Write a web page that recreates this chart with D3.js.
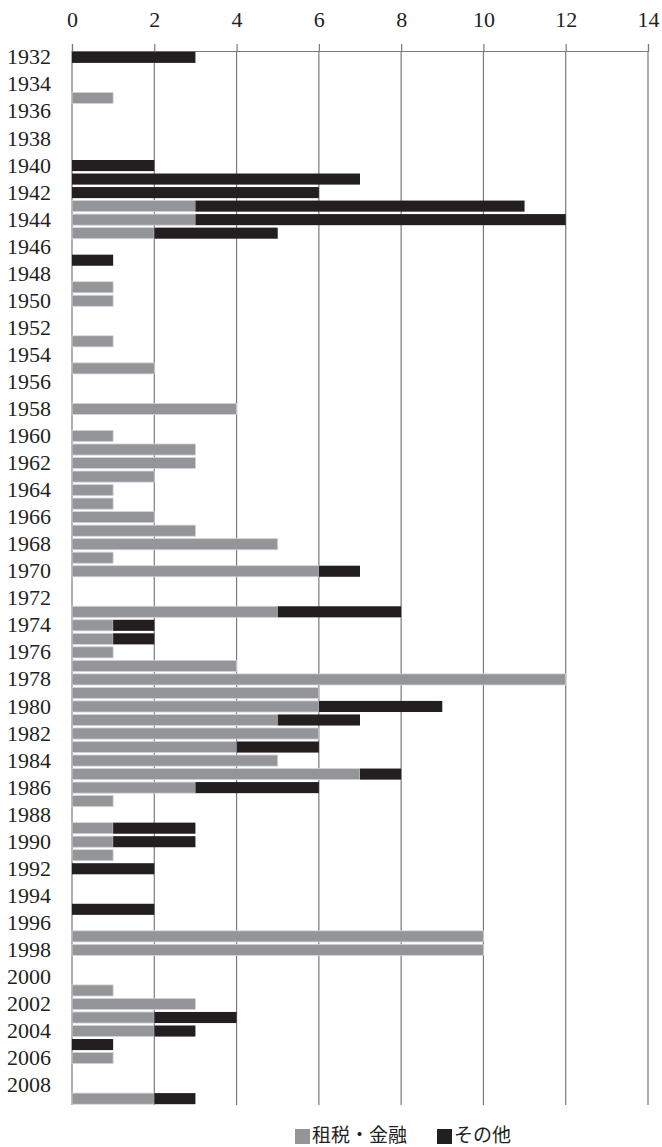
<!DOCTYPE html>
<html>
<head>
<meta charset="utf-8">
<script src="https://cdn.jsdelivr.net/npm/d3@7"></script>
<style>
  body { margin: 0; background: #fff; }
</style>
</head>
<body>
<div id="chart"></div>
<script>
// years shown in the chart (one bar per year)
const years = d3.range(1932, 2010);
// 租税・金融 (gray)
const tax = [
  0,0,0,1,0,0,0,0,0,0,   // 1932-1941
  0,3,3,2,0,0,0,1,1,0,   // 1942-1951
  0,1,0,2,0,0,4,0,1,3,   // 1952-1961
  3,2,1,1,2,3,5,1,6,0,   // 1962-1971
  0,5,1,1,1,4,12,6,6,5,  // 1972-1981
  6,4,5,7,3,1,0,1,1,1,   // 1982-1991
  0,0,0,0,0,10,10,0,0,1, // 1992-2001
  3,2,2,0,1,0,0,2        // 2002-2009
];
// その他 (black)
const other = [
  3,0,0,0,0,0,0,0,2,7,   // 1932-1941
  6,8,9,3,0,1,0,0,0,0,   // 1942-1951
  0,0,0,0,0,0,0,0,0,0,   // 1952-1961
  0,0,0,0,0,0,0,0,1,0,   // 1962-1971
  0,3,1,1,0,0,0,0,3,2,   // 1972-1981
  0,2,0,1,3,0,0,2,2,0,   // 1982-1991
  2,0,0,2,0,0,0,0,0,0,   // 1992-2001
  0,2,1,1,0,0,0,1        // 2002-2009
];
const seriesNames = ["租税・金融", "その他"];
const seriesColors = ["#939598", "#231f20"];
const xTicks = d3.range(0, 15, 2);
const yLabels = years.filter(y => y % 2 === 0);

const width = 662, height = 1147;
const plotLeft = 72, plotRight = 648, plotTop = 51, plotBottom = 1105;
const serif = "'Liberation Serif', 'DejaVu Serif', serif";

const svg = d3.select("#chart").append("svg")
    .attr("width", width)
    .attr("height", height);

const table = years.map((y, i) => ({ year: y, tax: tax[i], other: other[i] }));
const stack = d3.stack().keys(["tax", "other"])(table);

const x = d3.scaleLinear().domain([0, 14]).range([plotLeft, plotRight]);
const y = d3.scaleBand().domain(years).range([plotTop, plotBottom])
    .paddingInner(0.18).paddingOuter(0.06);

// grid lines
svg.append("g")
    .selectAll("line")
    .data(xTicks)
    .enter().append("line")
    .attr("x1", d => x(d)).attr("x2", d => x(d))
    .attr("y1", plotTop).attr("y2", plotBottom)
    .attr("stroke", "#7a7a7a")
    .attr("stroke-width", 1.2);

// top axis
const xAxis = svg.append("g")
    .attr("transform", "translate(0," + plotTop + ")")
    .call(d3.axisTop(x).tickValues(xTicks).tickSize(7).tickSizeOuter(7).tickPadding(17));
xAxis.attr("font-family", null).attr("font-size", null);
xAxis.select(".domain").attr("stroke", "#7a7a7a").attr("stroke-width", 1.2);
xAxis.selectAll(".tick line").attr("stroke", "#7a7a7a").attr("stroke-width", 1.2);
xAxis.selectAll("text")
    .attr("font-family", serif)
    .attr("font-size", 22)
    .attr("fill", "#231f20");

// bars
const layers = svg.append("g")
    .selectAll("g")
    .data(stack)
    .enter().append("g")
    .attr("fill", (d, i) => seriesColors[i]);

layers.selectAll("rect")
    .data(d => d.filter(p => p[1] > p[0]))
    .enter().append("rect")
    .attr("x", d => x(d[0]))
    .attr("y", d => y(d.data.year))
    .attr("width", d => x(d[1]) - x(d[0]))
    .attr("height", y.bandwidth());

layers.filter((d, i) => i === 0).selectAll("rect")
    .attr("stroke", "#d4d4d6")
    .attr("stroke-width", 0.8);

// left labels
const yAxis = svg.append("g")
    .attr("transform", "translate(" + plotLeft + ",0)")
    .call(d3.axisLeft(y).tickValues(yLabels).tickSize(0).tickPadding(21));
yAxis.attr("font-family", null).attr("font-size", null);
yAxis.select(".domain").remove();
yAxis.selectAll("text")
    .attr("font-family", serif)
    .attr("font-size", 22)
    .attr("fill", "#231f20");

// legend
const legend = svg.append("g")
    .attr("transform", "translate(295,1135)");
const legendX = [0, 142];
const item = legend.selectAll("g")
    .data(seriesNames)
    .enter().append("g")
    .attr("transform", (d, i) => "translate(" + legendX[i] + ",0)");
item.append("rect")
    .attr("x", 0).attr("y", -6)
    .attr("width", 15).attr("height", 15)
    .attr("fill", (d, i) => seriesColors[i]);
item.append("text")
    .attr("x", 17)
    .attr("dy", "0.35em")
    .attr("font-family", "'Noto Sans CJK JP', sans-serif")
    .attr("font-size", 19)
    .attr("fill", "#231f20")
    .text(d => d);
</script>
</body>
</html>
